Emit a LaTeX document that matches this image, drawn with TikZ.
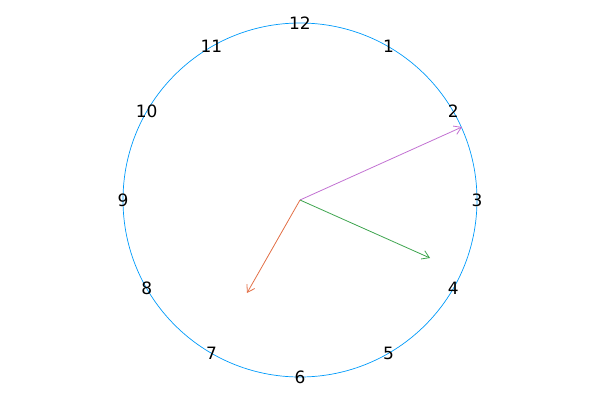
\documentclass[tikz,border=0pt]{standalone}
\usepackage{fontspec}
\setmainfont{DejaVu Sans}
\usetikzlibrary{arrows.meta,calc}
\definecolor{cblue}{HTML}{009AFA}
\definecolor{cpurple}{HTML}{C271D2}
\definecolor{cgreen}{HTML}{3DA44E}
\definecolor{corange}{HTML}{E26F46}
\begin{document}
\begin{tikzpicture}[x=1pt,y=-1pt,
  num/.style={font=\fontsize{17}{17}\selectfont, inner sep=0pt, anchor=center},
  hand/.style={line width=0.8pt, -{Straight Barb[length=7pt,width=9pt]}}]
\useasboundingbox (0,0) rectangle (600,400);
\coordinate (c) at (300,200);
\draw[cblue, line width=0.7pt] (c) circle (177);
\foreach \h in {1,...,12} {
  \node[num] (n\h) at ($(c)+({177*cos(90-30*\h)},{-177*sin(90-30*\h)})$) {\h};
}
\coordinate (pe) at (462,127);
\coordinate (ge) at (430,258);
\coordinate (oe) at (247,293);
\draw[hand, cpurple] (c) -- (pe);
\draw[hand, cgreen] (c) -- (ge);
\draw[hand, corange] (c) -- (oe);
\end{tikzpicture}
\end{document}
